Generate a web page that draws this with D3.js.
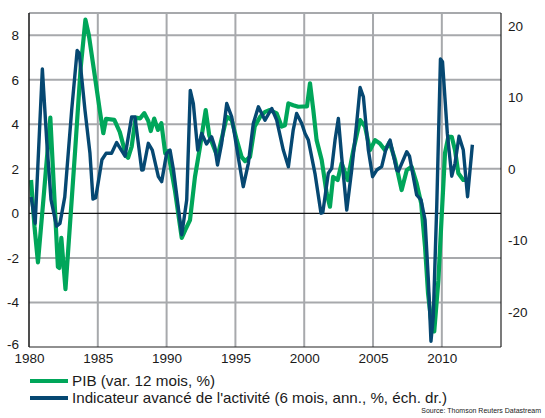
<!DOCTYPE html>
<html>
<head>
<meta charset="utf-8">
<script src="https://cdn.jsdelivr.net/npm/d3@7/dist/d3.min.js"></script>
<style>
  html, body { margin: 0; padding: 0; background: #fff; }
  svg { display: block; }
  text { font-family: "Liberation Sans", Arial, sans-serif; fill: #1a1a1a; }
</style>
</head>
<body>
<svg id="chart" width="545" height="418"></svg>
<script>
// ---- Data ----
const gdpDates = [1980.15,1980.4,1980.65,1981.1,1981.55,1982.1,1982.2,1982.35,1982.65,1983.35,1983.75,1984.1,1984.35,1984.8,1985.15,1985.4,1985.6,1986.2,1986.6,1987.05,1987.2,1987.46,1987.75,1988.07,1988.38,1988.67,1988.85,1989.1,1989.37,1989.62,1989.9,1990.1,1990.6,1991.1,1991.35,1991.7,1992.06,1992.43,1992.84,1993.1,1993.35,1993.7,1994.37,1994.73,1995.1,1995.45,1995.7,1996.06,1996.4,1996.8,1997.15,1997.5,1998.0,1998.36,1998.6,1998.85,1999.2,1999.57,1999.93,2000.2,2000.42,2000.66,2000.9,2001.27,2001.63,2001.87,2002.1,2002.43,2002.72,2003.16,2003.57,2004.06,2004.42,2004.78,2005.15,2005.5,2005.87,2006.2,2006.6,2007.08,2007.45,2007.8,2008.17,2008.5,2008.78,2009.0,2009.27,2009.45,2009.75,2010.0,2010.23,2010.47,2010.72,2010.96,2011.2,2011.56,2011.85];
const gdpValues = [1.5,-0.6,-2.2,1.0,4.3,-2.4,-2.45,-1.1,-3.4,2.8,6.5,8.7,8.0,6.1,4.6,3.6,4.25,4.2,3.65,2.6,2.5,3.0,4.3,4.27,4.5,4.15,3.7,4.26,3.75,4.05,2.7,2.8,1.05,-1.1,-0.75,-0.3,1.64,3.0,4.64,3.5,3.1,2.54,4.34,4.19,3.29,2.54,2.35,2.54,3.9,4.34,4.56,4.64,4.49,3.9,3.96,4.94,4.86,4.79,4.8,4.8,5.84,4.64,3.29,2.4,0.9,0.3,1.64,1.5,2.25,1.5,2.84,4.19,3.9,2.84,3.29,3.14,2.84,3.2,2.4,1.05,1.94,2.1,1.35,0.45,-1.5,-3.6,-5.1,-5.3,-3.0,0.0,2.7,3.44,3.44,2.84,1.8,1.5,1.5];

const indDates = [1980.15,1980.45,1980.97,1981.3,1981.6,1982.0,1982.25,1982.6,1983.1,1983.5,1983.65,1984.07,1984.43,1984.65,1984.85,1985.3,1985.6,1986.0,1986.37,1986.98,1987.46,1987.7,1988.19,1988.3,1988.67,1988.96,1989.4,1989.64,1990.0,1990.25,1990.5,1991.1,1991.46,1991.72,1991.94,1992.26,1992.55,1992.9,1993.27,1993.5,1993.7,1994.0,1994.37,1994.73,1995.2,1995.57,1995.94,1996.3,1996.67,1997.15,1997.64,1998.0,1998.48,1998.85,1999.2,1999.45,1999.82,2000.06,2000.3,2000.78,2001.22,2001.35,2001.75,2002.0,2002.24,2002.48,2002.72,2003.09,2003.45,2003.81,2004.06,2004.3,2004.66,2004.97,2005.27,2005.63,2005.92,2006.24,2006.72,2006.85,2007.45,2007.65,2008.17,2008.49,2008.78,2009.02,2009.21,2009.38,2009.63,2009.9,2010.05,2010.4,2010.72,2010.96,2011.25,2011.56,2011.87,2012.22];
const indValues = [-3.9,-7.6,14.0,3.6,-4.3,-8.0,-7.6,-3.9,8.2,16.6,16.2,8.2,2.2,-4.2,-4.0,1.3,2.2,2.2,3.7,1.8,7.3,7.3,-0.14,-0.1,3.6,2.65,-1.07,-1.77,2.19,2.65,-0.14,-9.2,-4.33,11.0,9.2,2.65,4.98,3.5,4.51,3.1,0.56,3.59,9.17,7.3,1.72,-2.47,0.8,6.38,8.7,6.84,8.47,6.84,2.65,0.33,5.45,7.78,6.38,4.98,4.05,-0.6,-6.19,-6.1,-0.6,0.1,4.05,7.08,1.72,-5.73,-0.14,6.38,11.4,10.1,2.65,-1.07,-0.14,0.33,2.65,4.05,-0.14,-0.3,2.42,1.8,-3.63,-4.33,-7.12,-15.5,-24.1,-20.6,-5.26,15.4,15.0,4.98,-1.0,0.8,4.6,2.65,-3.87,3.4];

const yearTicks = [1980,1985,1990,1995,2000,2005,2010];
const leftTicks = [-6,-4,-2,0,2,4,6,8];
const rightTicks = [-20,-10,0,10,20];
const seriesNames = ["PIB (var. 12 mois, %)", "Indicateur avancé de l'activité (6 mois, ann., %, éch. dr.)"];
const sourceText = "Source: Thomson Reuters Datastream";

// ---- Layout ----
const L = 29, R = 501, T = 13, B = 347;
const GREEN = "#00a65a", BLUE = "#064872", GRID = "#a7a9ac";

const svg = d3.select("#chart");
const x = d3.scaleLinear().domain([1980, 2014.3]).range([L, R]);
const yL = d3.scaleLinear().domain([-6, 9]).range([B, T]);
const yR = d3.scaleLinear().domain([-24.9, 21.83]).range([B, T]);

// gridlines
const g = svg.append("g");
g.selectAll("line.hg").data(leftTicks.filter(d => d !== 0 && d !== -6)).enter().append("line")
  .attr("x1", L).attr("x2", R).attr("y1", d => yL(d)).attr("y2", d => yL(d))
  .attr("stroke", GRID).attr("stroke-width", 2);
g.append("line").attr("x1", L).attr("x2", R).attr("y1", T).attr("y2", T)
  .attr("stroke", GRID).attr("stroke-width", 2);
g.selectAll("line.vg").data(yearTicks.filter(d => d !== 1980)).enter().append("line")
  .attr("x1", d => x(d)).attr("x2", d => x(d)).attr("y1", T).attr("y2", B)
  .attr("stroke", GRID).attr("stroke-width", 2);

// zero line
g.append("line").attr("x1", L).attr("x2", R).attr("y1", yL(0)).attr("y2", yL(0))
  .attr("stroke", "#111").attr("stroke-width", 1.2);

// lines
const gdp = gdpDates.map((d, i) => [d, gdpValues[i]]);
const ind = indDates.map((d, i) => [d, indValues[i]]);
svg.append("path").datum(gdp)
  .attr("d", d3.line().x(d => x(d[0])).y(d => yL(d[1])))
  .attr("fill", "none").attr("stroke", GREEN).attr("stroke-width", 4.2).attr("stroke-linejoin", "round");
svg.append("path").datum(ind)
  .attr("d", d3.line().x(d => x(d[0])).y(d => yR(d[1])))
  .attr("fill", "none").attr("stroke", BLUE).attr("stroke-width", 3.4).attr("stroke-linejoin", "round");

// axes lines
svg.append("line").attr("x1", L).attr("x2", L).attr("y1", T).attr("y2", B).attr("stroke", "#222").attr("stroke-width", 1.6);
svg.append("line").attr("x1", R).attr("x2", R).attr("y1", T).attr("y2", B).attr("stroke", "#222").attr("stroke-width", 1.2);
svg.append("line").attr("x1", L).attr("x2", R).attr("y1", B).attr("y2", B).attr("stroke", "#222").attr("stroke-width", 1.2);

// axis labels via d3 axes (no domain/tick lines)
const FS = 13.5;
const axL = svg.append("g").attr("transform", `translate(${L},0)`)
  .call(d3.axisLeft(yL).tickValues(leftTicks).tickSize(0).tickPadding(10).tickFormat(d3.format("d")));
const axR = svg.append("g").attr("transform", `translate(${R},0)`)
  .call(d3.axisRight(yR).tickValues(rightTicks).tickSize(0).tickPadding(7).tickFormat(d3.format("d")));
const axB = svg.append("g").attr("transform", `translate(0,${B})`)
  .call(d3.axisBottom(x).tickValues(yearTicks).tickSize(0).tickPadding(5).tickFormat(d3.format("d")));
[axL, axR, axB].forEach(a => {
  a.select(".domain").remove();
  a.selectAll("text").attr("font-size", FS).attr("font-family", "'Liberation Sans', Arial, sans-serif").attr("fill", "#1a1a1a");
});
axL.selectAll("text").text(d => d < 0 ? "-" + Math.abs(d) : d);
axR.selectAll("text").text(d => d < 0 ? "-" + Math.abs(d) : d);
// lift the lowest left label a little (it touches the first year label, as in the reference)
axL.selectAll(".tick").filter(d => d === -6).select("text").attr("dy", "0.12em");
axB.selectAll("text").attr("dy", "0.78em");

// legend
const lg = svg.append("g");
const colors = [GREEN, BLUE];
seriesNames.forEach((name, i) => {
  const yy = 381 + i * 17;
  lg.append("line").attr("x1", 30).attr("x2", 68).attr("y1", yy).attr("y2", yy)
    .attr("stroke", colors[i]).attr("stroke-width", 4);
  lg.append("text").attr("x", 72).attr("y", yy).attr("dy", "0.36em")
    .attr("font-size", 15).attr("textLength", i === 0 ? 143 : 375).attr("lengthAdjust", "spacingAndGlyphs")
    .text(name);
});
svg.append("text").attr("x", 541).attr("y", 413).attr("text-anchor", "end")
  .attr("font-size", 7).attr("fill", "#333").text(sourceText);
</script>
</body>
</html>
